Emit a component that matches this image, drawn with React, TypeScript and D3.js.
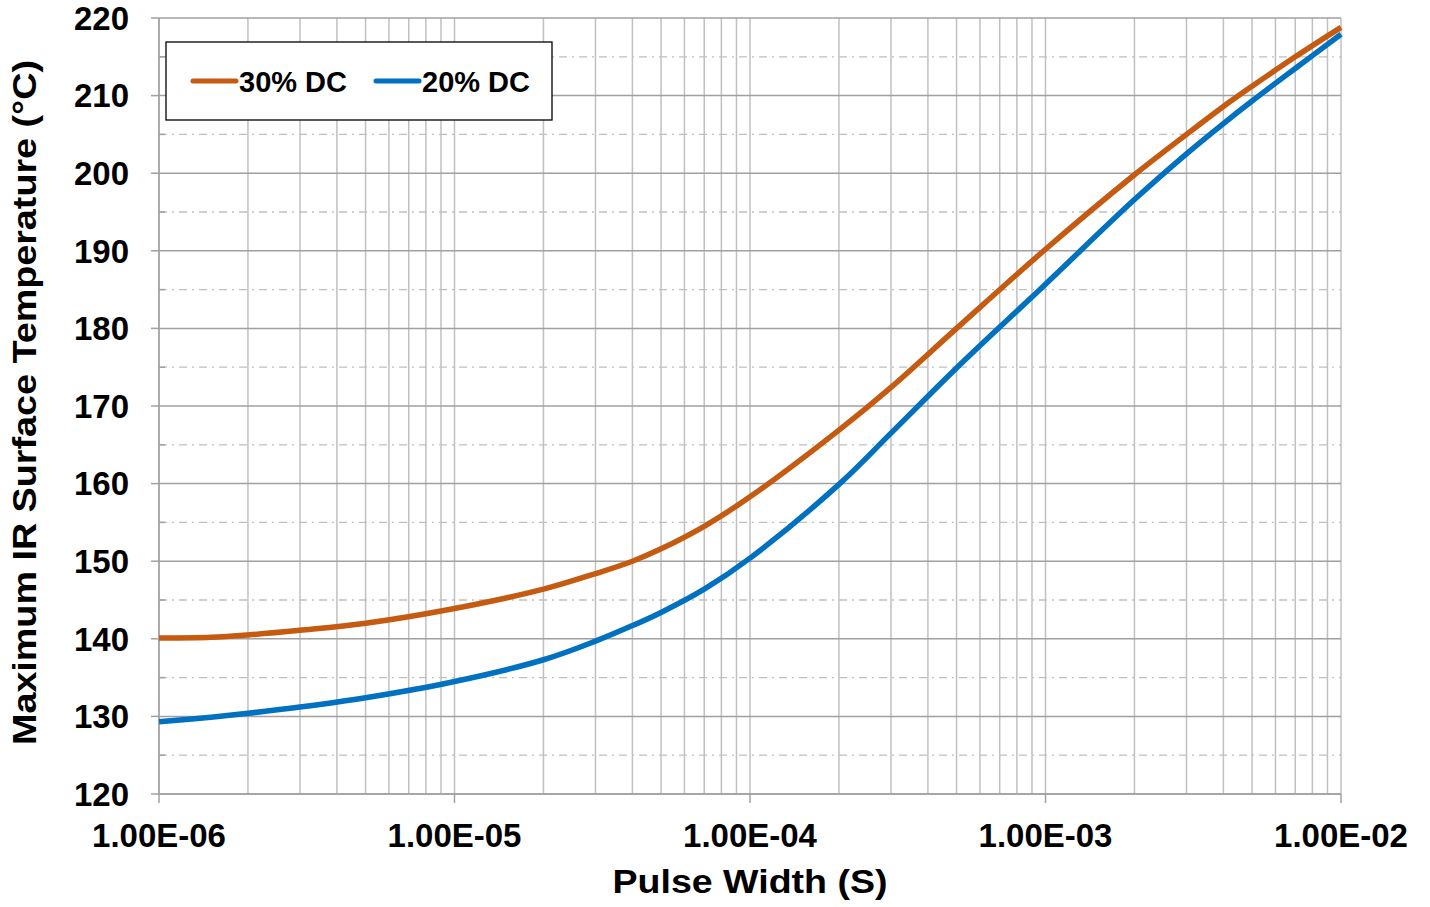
import React from "react";
import * as d3 from "d3";

const pulseWidth = [1e-6, 1.5e-6, 2e-6, 3e-6, 5e-6, 1e-5, 2e-5, 3e-5, 4e-5, 5e-5, 7e-5, 1e-4, 2e-4, 3e-4, 5e-4, 1e-3, 2e-3, 3e-3, 4e-3, 5e-3, 7e-3, 1e-2];
const dc30 = [140.1, 140.2, 140.5, 141.1, 142.0, 143.9, 146.4, 148.4, 150.0, 151.6, 154.5, 158.3, 166.9, 172.4, 180.0, 190.2, 199.8, 205.0, 208.6, 211.2, 215.0, 218.8];
const dc20 = [129.3, 129.9, 130.4, 131.2, 132.4, 134.5, 137.3, 139.7, 141.7, 143.4, 146.4, 150.4, 159.9, 166.5, 174.9, 185.7, 196.6, 202.5, 206.4, 209.3, 213.5, 217.9];
const seriesNames = ["30% DC", "20% DC"];
const seriesColors = ["#C55A11", "#0070C0"];
const yTicks = [120, 130, 140, 150, 160, 170, 180, 190, 200, 210, 220];
const xTicks = [1e-6, 1e-5, 1e-4, 1e-3, 1e-2];
const xTickLabels = ["1.00E-06", "1.00E-05", "1.00E-04", "1.00E-03", "1.00E-02"];
const xTitle = "Pulse Width (S)";
const yTitle = "Maximum IR Surface Temperature (°C)";

const W = 1430, H = 907;
const L = 159, R = 1341, T = 18, B = 794;
const FONT = "'Liberation Sans', Arial, sans-serif";

export default function App() {
  const x = d3.scaleLog().domain([1e-6, 1e-2]).range([L, R]);
  const y = d3.scaleLinear().domain([120, 220]).range([B, T]);

  const minorX: number[] = [];
  for (let e = -6; e < -2; e++) {
    for (let m = 2; m <= 9; m++) minorX.push(m * Math.pow(10, e));
  }
  const minorY: number[] = [];
  for (let i = 0; i < yTicks.length - 1; i++) minorY.push((yTicks[i] + yTicks[i + 1]) / 2);

  const line = d3
    .line<[number, number]>()
    .x((d) => x(d[0]))
    .y((d) => y(d[1]))
    .curve(d3.curveCatmullRom.alpha(0.5));

  const series = [dc30, dc20];

  return (
    <svg width={W} height={H} style={{ position: "absolute", left: 0, top: 0, background: "#fff" }} fontFamily={FONT}>
      <rect x={0} y={0} width={W} height={H} fill="#fff" />
      {minorY.map((v) => (
        <line key={"my" + v} x1={L} x2={R} y1={y(v)} y2={y(v)} stroke="#C0C0C0" strokeWidth={1.3} strokeDasharray="8,5,2,5" />
      ))}
      {minorX.map((v) => (
        <line key={"mx" + v} x1={x(v)} x2={x(v)} y1={T} y2={B} stroke="#C0C0C0" strokeWidth={1.5} />
      ))}
      {xTicks.map((v) => (
        <line key={"gx" + v} x1={x(v)} x2={x(v)} y1={T} y2={B} stroke="#C0C0C0" strokeWidth={1.5} />
      ))}
      {yTicks.map((v) => (
        <line key={"gy" + v} x1={L} x2={R} y1={y(v)} y2={y(v)} stroke="#A0A0A0" strokeWidth={1.5} />
      ))}
      <line x1={L} x2={L} y1={T} y2={B} stroke="#A0A0A0" strokeWidth={1.5} />
      <line x1={L} x2={R} y1={B} y2={B} stroke="#A0A0A0" strokeWidth={1.5} />
      {yTicks.map((v) => (
        <line key={"ty" + v} x1={L - 8} x2={L} y1={y(v)} y2={y(v)} stroke="#A0A0A0" strokeWidth={1.5} />
      ))}
      {minorY.map((v) => (
        <line key={"tmy" + v} x1={L} x2={L + 6} y1={y(v)} y2={y(v)} stroke="#A0A0A0" strokeWidth={1.5} />
      ))}
      {xTicks.map((v) => (
        <line key={"tx" + v} x1={x(v)} x2={x(v)} y1={B} y2={B + 9} stroke="#A0A0A0" strokeWidth={1.5} />
      ))}
      {series.map((s, i) => (
        <path
          key={seriesNames[i]}
          d={line(pulseWidth.map((p, j) => [p, s[j]] as [number, number])) || ""}
          fill="none"
          stroke={seriesColors[i]}
          strokeWidth={5.5}
          strokeLinejoin="round"
        />
      ))}
      {yTicks.map((v) => (
        <text key={"ly" + v} x={129} y={y(v)} dy="0.36em" textAnchor="end" fontSize={33} fontWeight="bold" fill="#000">
          {v}
        </text>
      ))}
      {xTicks.map((v, i) => (
        <text key={"lx" + v} x={x(v)} y={847} textAnchor="middle" fontSize={33} fontWeight="bold" fill="#000">
          {xTickLabels[i]}
        </text>
      ))}
      <text x={750} y={893} textAnchor="middle" fontSize={33} fontWeight="bold" fill="#000" textLength={275} lengthAdjust="spacingAndGlyphs">
        {xTitle}
      </text>
      <text
        transform={`translate(36, ${(745 + 60) / 2}) rotate(-90)`}
        textAnchor="middle"
        fontSize={34}
        fontWeight="bold"
        fill="#000"
        textLength={685}
        lengthAdjust="spacingAndGlyphs"
      >
        {yTitle}
      </text>
      <rect x={166} y={42} width={386} height={78} fill="#fff" stroke="#000" strokeWidth={1.3} />
      {seriesNames.map((n, i) => {
        const lx = i === 0 ? 193 : 376;
        return (
          <g key={"lg" + n}>
            <line x1={lx} x2={lx + 43} y1={81} y2={81} stroke={seriesColors[i]} strokeWidth={5} strokeLinecap="round" />
            <text x={lx + 46} y={91.5} fontSize={29} fontWeight="bold" fill="#000">
              {n}
            </text>
          </g>
        );
      })}
    </svg>
  );
}
